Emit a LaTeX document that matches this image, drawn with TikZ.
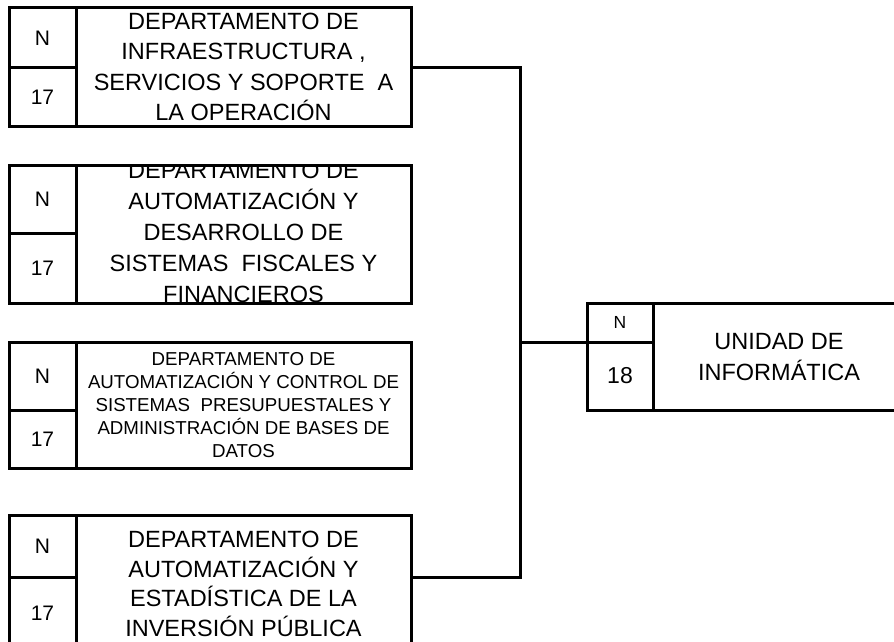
\documentclass[tikz,border=0pt]{standalone}
\usepackage{fontspec}
\setmainfont{Liberation Sans}
\usetikzlibrary{positioning}

\begin{document}
\begin{tikzpicture}[x=1pt,y=-1pt,line width=3pt,
                    cell/.style={draw,rectangle,inner sep=0pt,outer sep=0pt,
                                 minimum width=67pt,font=\fontsize{21}{26}\selectfont},
                    title/.style={draw,rectangle,inner sep=0pt,outer sep=0pt,
                                  minimum width=335pt,align=center,
                                  font=\fontsize{23.5}{30.5}\selectfont},
                    small/.style={font=\fontsize{18.7}{23}\selectfont},
                    link/.style={draw,line width=3pt}]

  \useasboundingbox (0,0) rectangle (894,642);
  \clip (0,0) rectangle (894,642);

  \node[cell,minimum height=60pt] (n1) at (42.5,38) {N};
  \node[cell,minimum height=58pt,below=0pt of n1] (v1) {17};
  \node[title,minimum height=118pt] (t1) at (243.5,67)
    {DEPARTAMENTO DE\\INFRAESTRUCTURA ,\\SERVICIOS Y SOPORTE~ A\\LA OPERACIÓN};

  \node[cell,minimum height=68pt] (n2) at (42.5,199) {N};
  \node[cell,minimum height=70pt,below=0pt of n2] (v2) {17};
  \begin{scope}
    \clip (243.5,165) ++(-167.5,0) rectangle ++(335,138);
    \node[title,draw=none,minimum height=138pt,font=\fontsize{23.5}{31}\selectfont] (t2text) at (243.5,232)
      {DEPARTAMENTO DE\\AUTOMATIZACIÓN Y\\DESARROLLO DE\\SISTEMAS~ FISCALES Y\\FINANCIEROS};
  \end{scope}
  \node[title,minimum height=138pt] (t2) at (243.5,234) {};

  \node[cell,minimum height=68pt] (n3) at (42.5,376) {N};
  \node[cell,minimum height=58pt,below=0pt of n3] (v3) {17};
  \node[title,small,minimum height=126pt] (t3) at (243.5,405)
    {DEPARTAMENTO DE\\AUTOMATIZACIÓN Y CONTROL DE\\SISTEMAS~ PRESUPUESTALES Y\\ADMINISTRACIÓN DE BASES DE\\DATOS};

  \node[cell,minimum height=62pt] (n4) at (42.5,546) {N};
  \node[cell,minimum height=73pt,below=0pt of n4] (v4) {17};
  \node[title,minimum height=138pt,font=\fontsize{23.5}{29.5}\selectfont] (t4) at (243.5,584)
    {DEPARTAMENTO DE\\AUTOMATIZACIÓN Y\\ESTADÍSTICA DE LA\\INVERSIÓN PÚBLICA};

  \node[cell,minimum width=66pt,minimum height=39pt,font=\fontsize{17.5}{22}\selectfont] (n5) at (620,322.5) {N};
  \node[cell,minimum width=66pt,minimum height=68pt,font=\fontsize{23}{26}\selectfont,below=0pt of n5] (v5) {18};
  \node[title,minimum width=252pt,minimum height=107pt] (t5) at (779,357)
    {UNIDAD DE\\INFORMÁTICA};

  \coordinate (bus) at (520,342);
  \draw[link] (t1.east |- v1.north) -| (bus) -- (v5.north west);
  \draw[link] (t4.east |- v4.north) -| (bus);
\end{tikzpicture}
\end{document}
